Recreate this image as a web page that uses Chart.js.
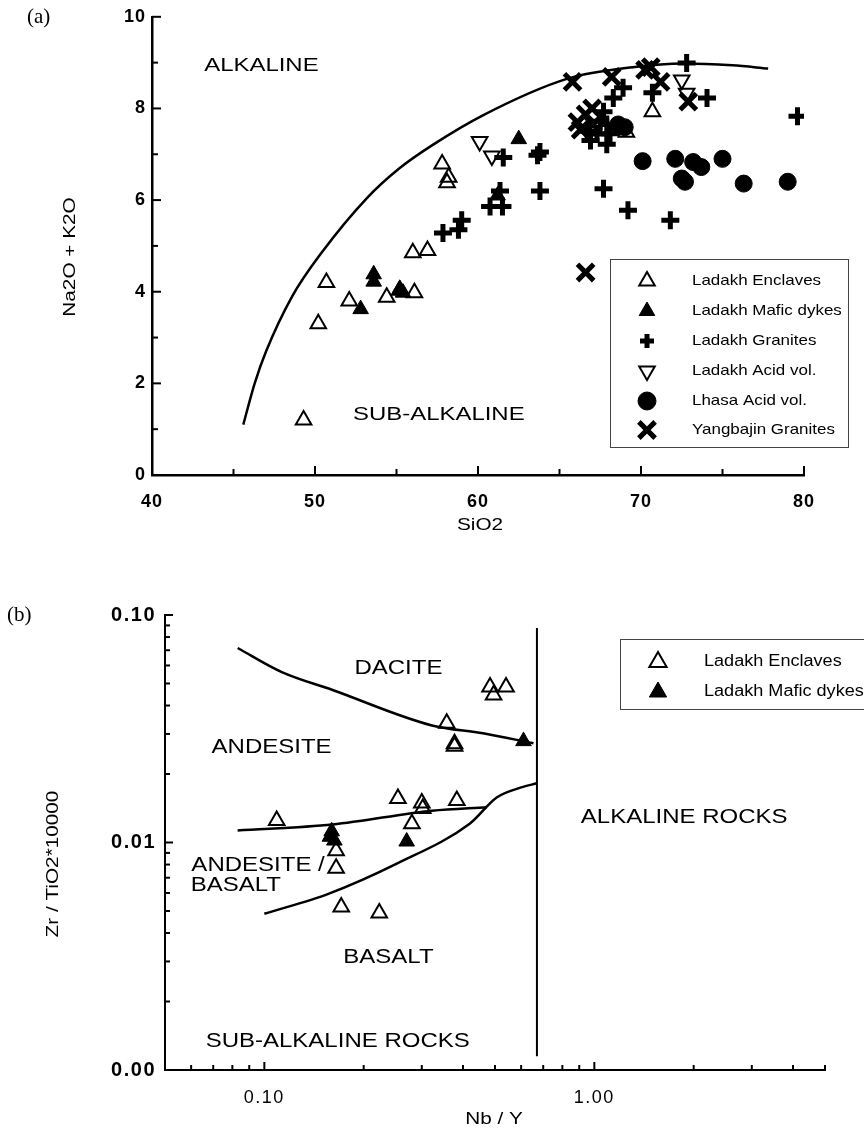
<!DOCTYPE html>
<html>
<head>
<meta charset="utf-8">
<script src="https://cdn.jsdelivr.net/npm/chart.js@4.4.0/dist/chart.umd.min.js"></script>
<style>
  body { margin: 0; background: #fff; width: 864px; height: 1132px; overflow: hidden; position: relative; }
  canvas { position: absolute; left: 0; }
  #chartA { top: 0; }
  #chartB { top: 560px; }
</style>
</head>
<body>
<canvas id="chartA" width="864" height="560"></canvas>
<canvas id="chartB" width="864" height="572"></canvas>
<script>
// ---- (a) SiO2 vs Na2O + K2O ----
const xTicksA = [40, 45, 50, 55, 60, 65, 70, 75, 80];
const xLabelsA = [40, 50, 60, 70, 80];
const yTicksA = [0, 1, 2, 3, 4, 5, 6, 7, 8, 9, 10];
const yLabelsA = [0, 2, 4, 6, 8, 10];

const enclavesA = [[49.3, 1.2], [50.2, 3.3], [50.7, 4.2], [52.1, 3.8], [54.4, 3.88], [55.2, 4.03], [56.1, 3.98],
  [56.0, 4.85], [56.9, 4.9], [57.8, 6.79], [58.2, 6.5], [58.1, 6.38], [69.1, 7.48], [70.7, 7.93]];
const dykesA = [[52.8, 3.62], [53.6, 4.38], [53.6, 4.22], [55.4, 3.98], [55.2, 4.06], [61.2, 6.1], [62.5, 7.33]];
const granitesA = [[57.85, 5.28], [58.8, 5.35], [59.0, 5.56], [60.74, 5.86], [61.5, 5.86], [61.35, 6.2], [61.55, 6.93],
  [63.8, 7.05], [63.65, 6.98], [63.8, 6.2], [67.7, 6.25], [69.2, 5.78], [71.8, 5.56], [79.6, 7.83], [72.8, 8.99],
  [74.05, 8.23], [70.7, 8.34], [68.9, 8.45], [68.3, 8.23], [67.7, 7.93], [67.9, 7.65], [67.3, 7.44], [67.9, 7.22],
  [66.7, 7.5], [67.5, 7.72], [66.9, 7.3], [68.1, 7.45]];
const acidLadakhA = [[60.1, 7.28], [60.85, 6.96], [72.5, 8.62], [72.8, 8.33]];
const lhasaA = [[70.1, 6.85], [72.1, 6.9], [73.2, 6.83], [73.7, 6.72], [72.5, 6.47], [72.7, 6.4], [75.0, 6.9],
  [76.3, 6.36], [79.0, 6.4], [68.6, 7.65], [69.0, 7.59]];
const yangbajinA = [[66.6, 4.42], [65.8, 8.58], [68.2, 8.69], [70.25, 8.84], [70.6, 8.9], [71.2, 8.58], [72.9, 8.15],
  [67.0, 8.0], [66.6, 7.87], [66.1, 7.7], [66.3, 7.54], [67.05, 7.65]];
const alkalineCurveA = [[45.6, 1.1], [46.3, 2.0], [47.0, 2.7], [48.6, 3.9], [50.4, 4.85], [53.2, 6.05], [55.2, 6.7],
  [57.2, 7.2], [60.3, 7.85], [65.5, 8.65], [69.5, 8.9], [72.6, 8.98], [75.6, 8.94], [77.8, 8.87]];

// ---- (b) Nb/Y vs Zr/TiO2 ----
const xTicksB = [0.05, 0.06, 0.07, 0.08, 0.09, 0.1, 0.2, 0.3, 0.4, 0.5, 0.6, 0.7, 0.8, 0.9, 1, 2, 3, 4, 5];
const xLabelsB = [0.1, 1];
const yTicksB = [0.001, 0.002, 0.003, 0.004, 0.005, 0.006, 0.007, 0.008, 0.009,
  0.01, 0.02, 0.03, 0.04, 0.05, 0.06, 0.07, 0.08, 0.09, 0.1];
const yLabelsB = [0.001, 0.01, 0.1];

const enclavesB = [[0.109, 0.0125], [0.254, 0.0156], [0.3, 0.0149], [0.302, 0.0141], [0.383, 0.0153], [0.28, 0.0121],
  [0.165, 0.0092], [0.165, 0.0077], [0.171, 0.0052], [0.223, 0.0049], [0.483, 0.0482], [0.54, 0.0482],
  [0.495, 0.0445], [0.357, 0.0334], [0.377, 0.0272], [0.377, 0.0265]];
const dykesB = [[0.16, 0.0112], [0.158, 0.0106], [0.163, 0.0102], [0.27, 0.0101], [0.61, 0.0279]];
const daciteLineB = [[0.083, 0.0716], [0.113, 0.0561], [0.161, 0.0468], [0.322, 0.0327], [0.46, 0.0302], [0.654, 0.0273]];
const andesiteLineB = [[0.083, 0.0113], [0.161, 0.012], [0.322, 0.0138], [0.473, 0.0143]];
const basaltLineB = [[0.1, 0.00486], [0.157, 0.00596], [0.252, 0.00807], [0.42, 0.01213], [0.506, 0.01578],
  [0.6, 0.01746], [0.67, 0.0182]];
const alkalineLineB = [[0.67, 0.0877], [0.67, 0.00115]];

const FONT = '"Liberation Sans", Arial, sans-serif';
Chart.defaults.font.family = FONT;
Chart.defaults.color = '#000';

function pt(label, data, style, radius, fill, bw, rot) {
  return { label, data, showLine: false, pointStyle: style, pointRadius: radius, pointRotation: rot,
    pointBackgroundColor: fill, pointBorderColor: '#000', pointBorderWidth: bw };
}
function curve(data, width) {
  return { label: '', data, showLine: true, pointRadius: 0, borderColor: '#000', borderWidth: width,
    tension: 0.4, cubicInterpolationMode: 'monotone', fill: false };
}
const near = (arr, v) => arr.some(l => Math.abs(l - v) <= Math.abs(l) * 1e-6);

// the printed figure uses a wide sans face, so text is stretched along its run
function wideText(ctx, text, x, y, font, sx, rot, align) {
  ctx.save();
  ctx.letterSpacing = '0px';
  ctx.font = font;
  ctx.fillStyle = '#000';
  ctx.textAlign = align || 'left';
  ctx.textBaseline = 'middle';
  ctx.translate(x, y);
  if (rot) ctx.rotate(rot);
  ctx.scale(sx, 1);
  ctx.fillText(text, 0, 0);
  ctx.restore();
}

// ticks pointing into the plot
function inTicks(xLab, yLab, major, minor, width) {
  return {
    id: 'inTicks',
    afterDraw(chart) {
      const { ctx, chartArea: a, scales } = chart;
      ctx.save();
      ctx.strokeStyle = '#000';
      ctx.lineWidth = width;
      scales.x.ticks.forEach(t => {
        const p = scales.x.getPixelForValue(t.value);
        const len = near(xLab, t.value) ? major : minor;
        ctx.beginPath(); ctx.moveTo(p, a.bottom); ctx.lineTo(p, a.bottom - len); ctx.stroke();
      });
      scales.y.ticks.forEach(t => {
        const p = scales.y.getPixelForValue(t.value);
        const len = near(yLab, t.value) ? major : minor;
        ctx.beginPath(); ctx.moveTo(a.left, p); ctx.lineTo(a.left + len, p); ctx.stroke();
      });
      ctx.restore();
    }
  };
}

function spacing(ls) {
  return {
    id: 'spacing',
    beforeUpdate(chart) { chart.ctx.letterSpacing = ls; },
    beforeDraw(chart) { chart.ctx.letterSpacing = ls; }
  };
}

// region names placed in data coordinates
function regionText(labels, font, sx) {
  return {
    id: 'regionText',
    afterDatasetsDraw(chart) {
      const { ctx, scales } = chart;
      labels.forEach(l => {
        wideText(ctx, l.text, scales.x.getPixelForValue(l.x), scales.y.getPixelForValue(l.y), font, sx, 0, 'left');
      });
    }
  };
}

// axis titles, centred on the given spots
function axisTitles(xt, yt, font, sx) {
  return {
    id: 'axisTitles',
    afterDraw(chart) {
      const ctx = chart.ctx;
      wideText(ctx, xt.text, xt.x, xt.y, font, sx, 0, 'center');
      wideText(ctx, yt.text, yt.x, yt.y, font, sx, -Math.PI / 2, 'center');
    }
  };
}

function panelTag(text, x, y) {
  return {
    id: 'panelTag',
    afterDraw(chart) {
      const ctx = chart.ctx;
      ctx.save();
      ctx.letterSpacing = '0px';
      ctx.font = '21px "Liberation Serif", "Times New Roman", serif';
      ctx.fillStyle = '#000';
      ctx.textBaseline = 'middle';
      ctx.fillText(text, x, y);
      ctx.restore();
    }
  };
}

function boxLegend(box, rowYs, symX, textX, font, sx, sizes) {
  return {
    id: 'boxLegend',
    afterDraw(chart) {
      const ctx = chart.ctx;
      ctx.save();
      ctx.letterSpacing = '0px';
      ctx.strokeStyle = '#444';
      ctx.lineWidth = 1;
      ctx.strokeRect(box.x + 0.5, box.y + 0.5, box.w, box.h);
      rowYs.forEach((y, i) => {
        const ds = chart.data.datasets[i];
        ctx.fillStyle = ds.pointBackgroundColor;
        ctx.strokeStyle = ds.pointBorderColor;
        ctx.lineWidth = ds.pointBorderWidth;
        Chart.helpers.drawPoint(ctx, { pointStyle: ds.pointStyle, rotation: ds.pointRotation || 0,
          radius: sizes[i] || ds.pointRadius, borderWidth: ds.pointBorderWidth }, symX, y);
        wideText(ctx, ds.label, textX, y, font, sx, 0, 'left');
      });
      ctx.restore();
    }
  };
}

function axisBase(width) {
  return {
    grid: { display: true, drawOnChartArea: false, drawTicks: false },
    border: { display: true, color: '#000', width: width }
  };
}

// ---------- chart (a) ----------
new Chart(document.getElementById('chartA'), {
  type: 'scatter',
  data: {
    datasets: [
      pt('Ladakh Enclaves', enclavesA, 'triangle', 9, 'rgba(0,0,0,0)', 2, 0),
      pt('Ladakh Mafic dykes', dykesA, 'triangle', 9, '#000', 1, 0),
      pt('Ladakh Granites', granitesA, 'cross', 9, '#000', 5, 0),
      pt('Ladakh Acid vol.', acidLadakhA, 'triangle', 9, 'rgba(0,0,0,0)', 2, 180),
      pt('Lhasa Acid vol.', lhasaA, 'circle', 8.5, '#000', 1, 0),
      pt('Yangbajin Granites', yangbajinA, 'crossRot', 11.5, '#000', 5, 0),
      curve(alkalineCurveA, 2.5)
    ]
  },
  options: {
    responsive: false,
    animation: false,
    events: [],
    layout: { padding: { left: 0, top: 11, right: 60, bottom: 0 } },
    plugins: { legend: { display: false }, tooltip: { enabled: false } },
    scales: {
      x: Object.assign(axisBase(2.5), {
        type: 'linear', min: 40, max: 80,
        afterBuildTicks: s => { s.ticks = xTicksA.map(v => ({ value: v })); },
        afterFit: s => { s.height = 85; },
        ticks: { autoSkip: false, maxRotation: 0, padding: 16, font: { size: 18, weight: 'bold' },
          callback: v => near(xLabelsA, v) ? String(v) : '' }
      }),
      y: Object.assign(axisBase(2.5), {
        type: 'linear', min: 0, max: 10,
        afterBuildTicks: s => { s.ticks = yTicksA.map(v => ({ value: v })); },
        afterFit: s => { s.width = 152; },
        ticks: { autoSkip: false, padding: 6, font: { size: 18, weight: 'bold' },
          callback: v => near(yLabelsA, v) ? String(v) : '' }
      })
    }
  },
  plugins: [
    spacing('1px'),
    inTicks(xLabelsA, yLabelsA, 9, 6, 2),
    regionText([
      { text: 'ALKALINE', x: 43.2, y: 8.94 },
      { text: 'SUB-ALKALINE', x: 52.33, y: 1.31 }
    ], '19px ' + FONT, 1.26),
    axisTitles({ text: 'SiO2', x: 480, y: 525 }, { text: 'Na2O + K2O', x: 70, y: 257 }, '17px ' + FONT, 1.22),
    boxLegend({ x: 610, y: 259, w: 238, h: 188 }, [281, 311, 341, 371, 401, 430], 647, 692,
      '15px ' + FONT, 1.13, [9, 9, 7, 9, 9, 11.5]),
    panelTag('(a)', 27, 17)
  ]
});

// ---------- chart (b) ----------
new Chart(document.getElementById('chartB'), {
  type: 'scatter',
  data: {
    datasets: [
      pt('Ladakh Enclaves', enclavesB, 'triangle', 9, 'rgba(0,0,0,0)', 2, 0),
      pt('Ladakh Mafic dykes', dykesB, 'triangle', 9, '#000', 1, 0),
      curve(daciteLineB, 2.5),
      curve(andesiteLineB, 2.5),
      curve(basaltLineB, 2.5),
      curve(alkalineLineB, 2)
    ]
  },
  options: {
    responsive: false,
    animation: false,
    events: [],
    layout: { padding: { left: 0, top: 55, right: 39, bottom: 0 } },
    plugins: { legend: { display: false }, tooltip: { enabled: false } },
    scales: {
      x: Object.assign(axisBase(2), {
        type: 'logarithmic', min: 0.05, max: 5,
        afterBuildTicks: s => { s.ticks = xTicksB.map(v => ({ value: v })); },
        afterFit: s => { s.height = 62; },
        ticks: { autoSkip: false, maxRotation: 0, padding: 17, font: { size: 18 },
          callback: v => near(xLabelsB, v) ? v.toFixed(2) : '' }
      }),
      y: Object.assign(axisBase(2), {
        type: 'logarithmic', min: 0.001, max: 0.1,
        afterBuildTicks: s => { s.ticks = yTicksB.map(v => ({ value: v })); },
        afterFit: s => { s.width = 165; },
        ticks: { autoSkip: false, padding: 9, font: { size: 20, weight: 'bold' },
          callback: v => near(yLabelsB, v) ? v.toFixed(2) : '' }
      })
    }
  },
  plugins: [
    spacing('1.5px'),
    inTicks(xLabelsB, yLabelsB, 8, 5, 2),
    regionText([
      { text: 'DACITE', x: 0.1875, y: 0.0584 },
      { text: 'ANDESITE', x: 0.0692, y: 0.0262 },
      { text: 'ALKALINE ROCKS', x: 0.91, y: 0.01288 },
      { text: 'ANDESITE /', x: 0.0601, y: 0.00792 },
      { text: 'BASALT', x: 0.0598, y: 0.00647 },
      { text: 'BASALT', x: 0.1735, y: 0.00311 },
      { text: 'SUB-ALKALINE ROCKS', x: 0.0664, y: 0.00134 }
    ], '20px ' + FONT, 1.2),
    axisTitles({ text: 'Nb / Y', x: 494, y: 559 }, { text: 'Zr / TiO2*10000', x: 53, y: 304 }, '17px ' + FONT, 1.22),
    boxLegend({ x: 620, y: 79, w: 250, h: 70 }, [102, 132], 658, 704, '16px ' + FONT, 1.13, [10, 10]),
    panelTag('(b)', 7, 55)
  ]
});
</script>
</body>
</html>
